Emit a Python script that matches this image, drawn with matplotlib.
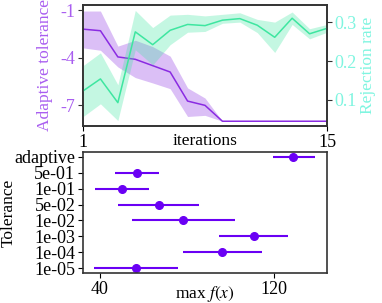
import matplotlib
matplotlib.use("Agg")
import matplotlib.pyplot as plt
import numpy as np

plt.rcParams['font.family'] = ['Liberation Serif', 'DejaVu Serif']
plt.rcParams['mathtext.fontset'] = 'stix'
plt.rcParams['axes.unicode_minus'] = False

# top panel data
iters = np.arange(1, 16)
tol_mean = [-2.2, -2.3, -3.95, -4.1, -4.5, -4.9, -6.73, -7.0, -8.0, -8.0, -8.0, -8.0, -8.0, -8.0, -8.0]
tol_hi = [-1.06, -1.06, -3.27, -2.9, -3.3, -3.9, -5.9, -6.54, -8.0, -8.0, -8.0, -8.0, -8.0, -8.0, -8.0]
tol_lo = [-3.38, -3.53, -4.58, -5.25, -5.59, -5.95, -7.7, -7.63, -8.0, -8.0, -8.0, -8.0, -8.0, -8.0, -8.0]
rej_mean = [0.123, 0.154, 0.093, 0.275, 0.242, 0.279, 0.294, 0.291, 0.305, 0.309, 0.292, 0.261, 0.31, 0.27, 0.284]
rej_hi = [0.188, 0.221, 0.139, 0.33, 0.286, 0.318, 0.32, 0.316, 0.32, 0.324, 0.307, 0.30, 0.326, 0.283, 0.294]
rej_lo = [0.057, 0.09, 0.047, 0.229, 0.19, 0.242, 0.274, 0.276, 0.297, 0.30, 0.273, 0.222, 0.294, 0.257, 0.274]

# bottom panel data
tol_labels = ['adaptive', '5e-01', '1e-01', '5e-02', '1e-02', '1e-03', '1e-04', '1e-05']
fmax = [128.9, 57.0, 50.3, 67.2, 78.3, 110.9, 96.4, 56.5]
fmax_lo = [119.4, 46.9, 37.7, 48.4, 55.0, 94.8, 78.3, 37.4]
fmax_hi = [138.9, 67.5, 62.8, 85.7, 102.2, 126.7, 114.4, 75.9]

purple = '#8a2be2'
purple_lab = '#a95ef0'
green = '#3ee6a0'
cyan_lab = '#7ff5e0'
dot_col = '#6a00f4'
spine_col = '#333333'
TS = 13    # tick labels
LS = 12.5  # axis labels

fig = plt.figure(figsize=(3.82, 3.03), dpi=100)
ax1 = fig.add_axes([83/382, 1-126/303, 244/382, 121/303])
ax2 = ax1.twinx()

ax1.fill_between(iters, tol_lo, tol_hi, color=purple, alpha=0.3, lw=0)
ax1.plot(iters, tol_mean, color=purple, lw=1.1)
ax2.fill_between(iters, rej_lo, rej_hi, color=green, alpha=0.3, lw=0)
ax2.plot(iters, rej_mean, color=green, lw=1.1)

ax1.set_xlim(1, 15)
ax1.set_ylim(-8.3, -0.68)
ax2.set_ylim(0.033, 0.344)
ax1.set_xticks([1, 15])
ax1.set_yticks([-1, -4, -7])
ax2.set_yticks([0.1, 0.2, 0.3])
ax1.set_xlabel('iterations', fontsize=LS)
ax1.xaxis.set_label_coords(0.5, -0.06)
ax1.set_ylabel('Adaptive tolerance', color=purple_lab, fontsize=LS, labelpad=5)
ax2.set_ylabel('Rejection rate', color=cyan_lab, fontsize=LS, labelpad=2)
ax1.tick_params(axis='y', colors=purple_lab, labelsize=TS, pad=2)
ax1.tick_params(axis='x', labelsize=TS, pad=2)
ax2.tick_params(axis='y', colors=cyan_lab, labelsize=TS, pad=2)
for ax in (ax1, ax2):
    for s in ax.spines.values():
        s.set_color(spine_col)
        s.set_linewidth(1.2)
ax1.tick_params(axis='y', color=spine_col)
ax2.tick_params(axis='y', color=spine_col)

ax3 = fig.add_axes([83/382, 1-273/303, 244/382, 121/303])
ypos = np.arange(len(tol_labels))
xerr = [np.array(fmax) - np.array(fmax_lo), np.array(fmax_hi) - np.array(fmax)]
ax3.errorbar(fmax, ypos, xerr=xerr, fmt='o', color=dot_col, ms=5.5, elinewidth=1.5, capsize=0)
ax3.set_yticks(ypos)
ax3.set_yticklabels(tol_labels)
ax3.set_ylim(len(tol_labels) - 0.7, -0.3)
ax3.set_xlim(32.4, 144.4)
ax3.set_xticks([40, 120])
ax3.set_xlabel('max $f(x)$', fontsize=LS)
ax3.xaxis.set_label_coords(0.5, -0.09)
ax3.set_ylabel('Tolerance', fontsize=LS)
ax3.yaxis.set_label_coords(-0.27, 0.5)
ax3.tick_params(labelsize=TS, pad=2)
for s in ax3.spines.values():
    s.set_color(spine_col)
    s.set_linewidth(1.2)

fig.savefig('out.png', dpi=100)
